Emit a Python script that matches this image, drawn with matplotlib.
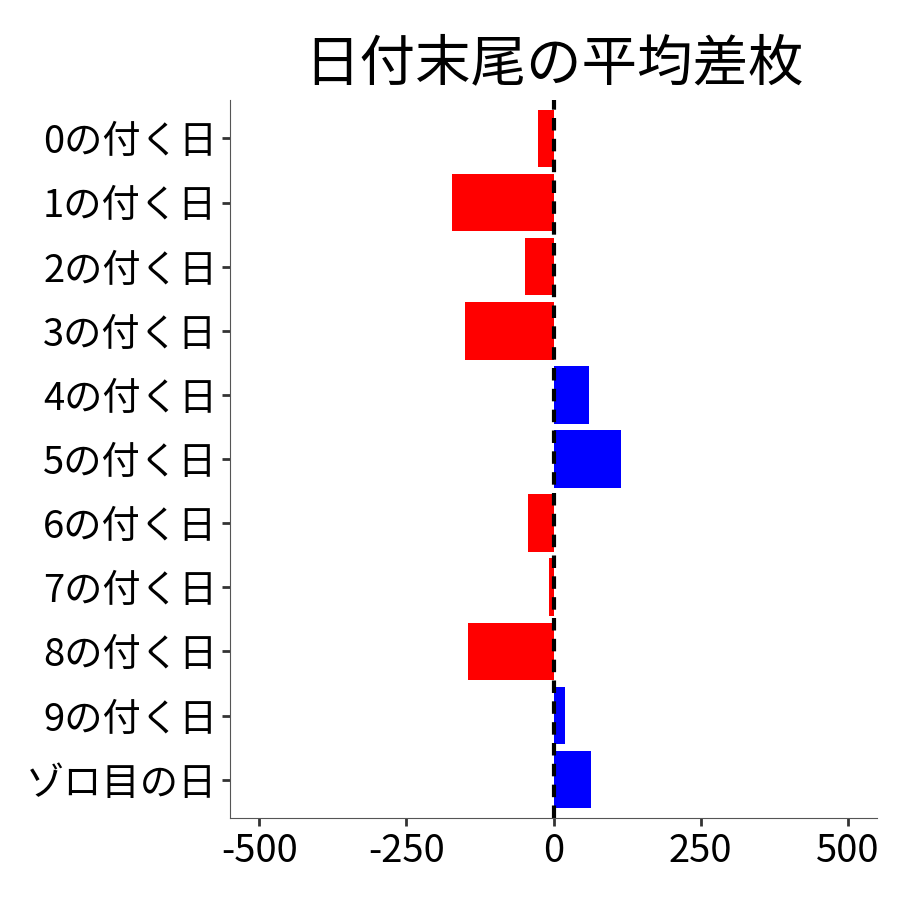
import matplotlib
matplotlib.use("Agg")
import matplotlib.pyplot as plt

plt.rcParams['font.family'] = ['Noto Sans CJK JP', 'DejaVu Sans']

categories = ["0の付く日", "1の付く日", "2の付く日", "3の付く日", "4の付く日", "5の付く日",
              "6の付く日", "7の付く日", "8の付く日", "9の付く日", "ゾロ目の日"]
values = [-27, -172, -48, -150, 61, 114, -43, -7, -145, 19, 63]
xticks = [-500, -250, 0, 250, 500]

fig = plt.figure(figsize=(9, 9), dpi=100)
ax = fig.add_axes([0.256, 0.091, 0.718, 0.798])
ypos = list(range(len(categories)))
colors = ['blue' if v > 0 else 'red' for v in values]
ax.barh(ypos, values, height=0.9, color=colors)
ax.axvline(0, color='black', linestyle=(0, (3, 2)), linewidth=3)
ax.set_yticks(ypos)
ax.set_yticklabels(categories, fontsize=27.5)
ax.set_xticks(xticks)
ax.set_xticklabels([str(t) for t in xticks], fontsize=27.5)
ax.set_xlim(-549, 549)
ax.set_ylim(len(categories) - 0.4, -0.6)
for s in ['top', 'right']:
    ax.spines[s].set_visible(False)
for s in ['left', 'bottom']:
    ax.spines[s].set_color('#555555')
ax.tick_params(axis='both', length=6, width=2, color='#333333')
ax.tick_params(axis='x', pad=4)
ax.set_title("日付末尾の平均差枚", fontsize=40, pad=14)
fig.savefig("out.png")
